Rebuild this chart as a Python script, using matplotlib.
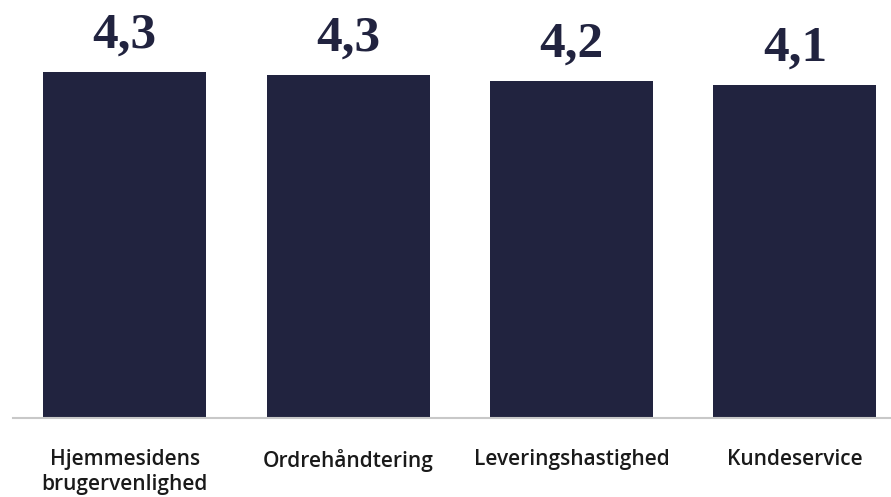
import matplotlib.pyplot as plt

categories = ["Hjemmesidens\nbrugervenlighed", "Ordrehåndtering", "Leveringshastighed", "Kundeservice"]
scores = [4.30, 4.26, 4.18, 4.13]

navy = "#21233f"

fig = plt.figure(figsize=(8.91, 4.97), dpi=100)
ax = fig.add_axes([13 / 891, 79 / 497, 878 / 891, 418 / 497])

x = list(range(len(categories)))
bars = ax.bar(x, scores, width=0.73, color=navy)

# value labels in a bold serif, decimal comma
for rect, v in zip(bars, scores):
    ax.annotate(f"{v:.1f}".replace(".", ","),
                (rect.get_x() + rect.get_width() / 2, rect.get_height()),
                xytext=(0, 17.5), textcoords="offset points",
                ha="center", va="baseline",
                fontsize=37, fontweight="bold", family="Liberation Serif",
                color=navy)

ax.set_xlim(-0.5, 3.43)
ax.set_ylim(0, 5.19)

ax.set_xticks(x)
ax.set_xticklabels(categories, fontsize=15, fontweight="semibold",
                   family="Open Sans", color="#1a1a1a", linespacing=1.3)
ax.tick_params(axis="x", length=0, pad=22)
ax.set_yticks([])

for s in ["top", "right", "left"]:
    ax.spines[s].set_visible(False)
ax.spines["bottom"].set_color("#c8c8c8")
ax.spines["bottom"].set_linewidth(1.5)

fig.savefig("out.png", dpi=100)
